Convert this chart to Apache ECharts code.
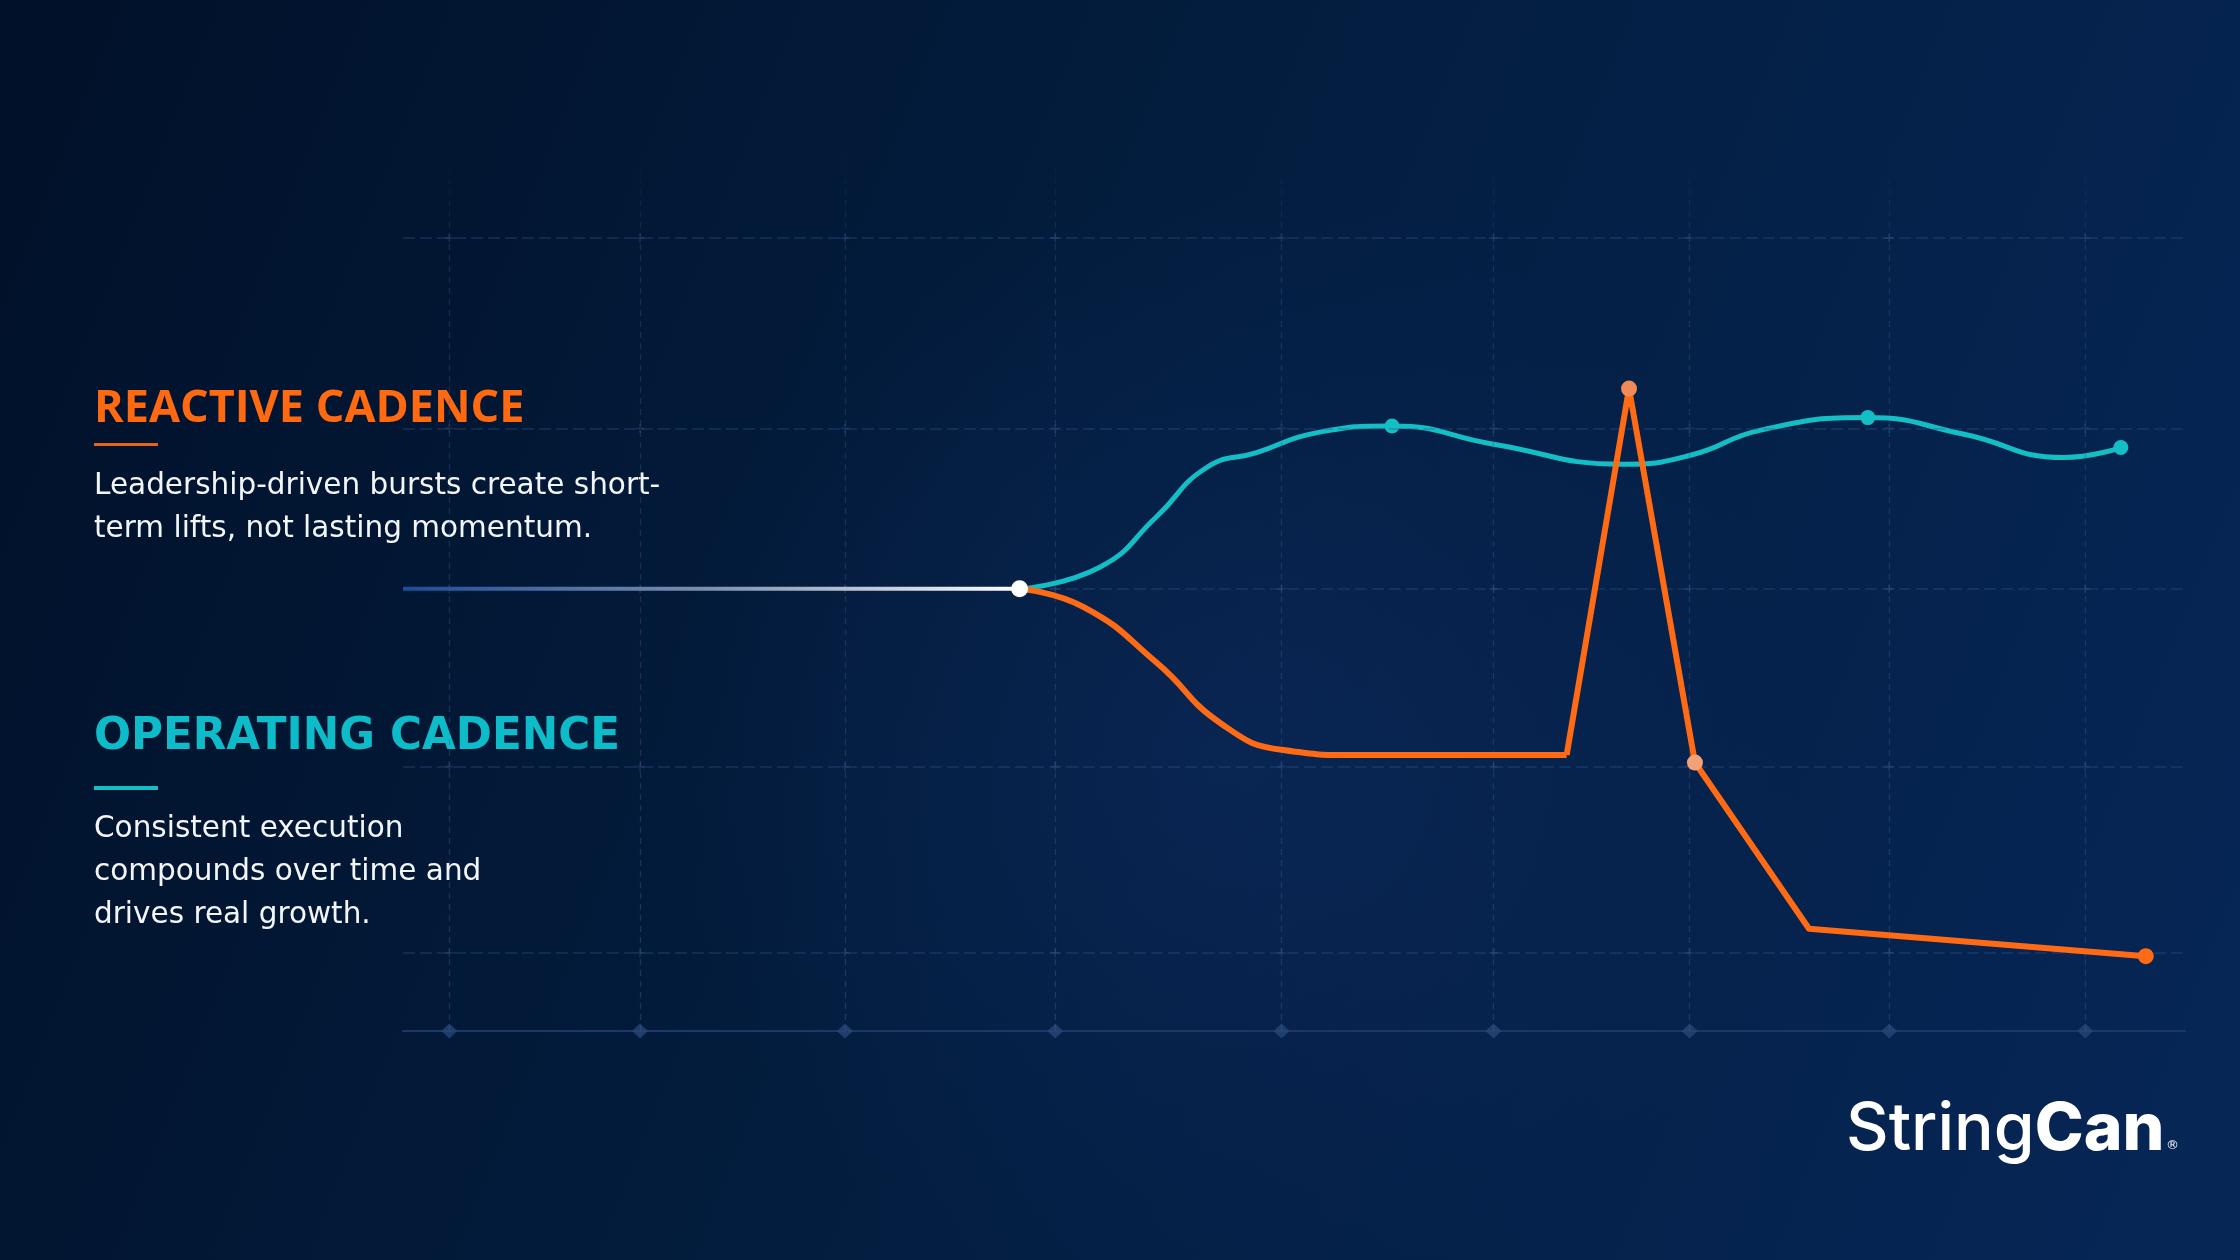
<!DOCTYPE html>
<html><head><meta charset="utf-8">
<script src="https://cdn.jsdelivr.net/npm/echarts@6/dist/echarts.min.js"></script>
<style>html,body{margin:0;padding:0;background:#041a38;}#c{width:2240px;height:1260px;}</style>
</head><body><div id="c"></div>
<script>
// ---- data (x: time units 0-100 across the grid, y: performance index 0-106) ----
const baselineX = [0, 34.6];
const baselineY = [53.2, 53.2];

const operatingX = [34.6, 39.1, 42.3, 45.1, 47.9, 51.3, 55.5, 61.2, 68.5, 72.3, 76.2, 82.2, 87.6, 93.2, 96.4];
const operatingY = [53.2, 55.8, 61.9, 67.8, 69.6, 72.0, 72.8, 70.6, 68.2, 69.3, 72.3, 73.8, 71.8, 69.0, 70.2];
const operatingMarked = [6, 11, 14];

const reactiveRampX = [34.6, 38.2, 42.3, 45.9, 49.4, 53.5, 65.3];
const reactiveRampY = [53.2, 51.0, 44.3, 37.0, 33.8, 33.2, 33.2];

const reactiveSpikeX = [65.3, 68.8, 72.5, 78.9, 97.8];
const reactiveSpikeY = [33.2, 77.3, 32.3, 12.3, 9.0];
const reactiveMarked = [1, 2, 4];

const gridX = [2.6, 13.3, 24.8, 36.6, 49.3, 61.2, 72.2, 83.4, 94.4];
const gridY = [95.4, 72.5, 53.2, 31.8, 9.4];

// ---- colours ----
const ORANGE = '#FF6A14';
const TEAL = '#13BEC4';

const pts = (xs, ys) => xs.map((x, i) => [x, ys[i]]);

const tealData = pts(operatingX, operatingY).map((p, i) =>
  operatingMarked.includes(i)
    ? { value: p, symbol: 'circle', symbolSize: 15, itemStyle: { color: TEAL } }
    : { value: p, symbol: 'none' });

const spikeColors = { 1: '#F28A55', 2: '#F3A177', 4: ORANGE };
const spikeData = pts(reactiveSpikeX, reactiveSpikeY).map((p, i) =>
  reactiveMarked.includes(i)
    ? { value: p, symbol: 'circle', symbolSize: 16, itemStyle: { color: spikeColors[i] } }
    : { value: p, symbol: 'none' });

const baseData = pts(baselineX, baselineY).map((p, i) =>
  i === baselineX.length - 1
    ? { value: p, symbol: 'circle', symbolSize: 17, itemStyle: { color: '#ffffff' } }
    : { value: p, symbol: 'none' });

const crosses = [];
gridX.forEach(x => gridY.forEach(y => crosses.push([x, y])));

const chart = echarts.init(document.getElementById('c'), null, { renderer: 'canvas' });
chart.setOption({
  backgroundColor: {
    type: 'linear', x: 0, y: 0.15, x2: 1, y2: 0.85,
    colorStops: [
      { offset: 0, color: '#01112a' },
      { offset: 0.45, color: '#031d3e' },
      { offset: 1, color: '#062656' }
    ]
  },
  animation: false,
  grid: { left: 403, right: 55, top: 150, bottom: 229 },
  xAxis: {
    type: 'value', min: 0, max: 100,
    axisLine: { show: true, lineStyle: { color: '#1d3865', width: 2 } },
    axisTick: { show: false }, axisLabel: { show: false }, splitLine: { show: false }
  },
  yAxis: {
    type: 'value', min: 0, max: 106, show: false, splitLine: { show: false }
  },
  series: [
    {
      type: 'line', data: [[0, 0]], symbol: 'none', silent: true, z: 1,
      lineStyle: { opacity: 0 },
      markLine: {
        silent: true, symbol: 'none', label: { show: false },
        data: [
          ...gridX.map(v => ({
            xAxis: v,
            lineStyle: {
              type: [6, 5], width: 1.2,
              color: {
                type: 'linear', x: 0, y: 0, x2: 0, y2: 1,
                colorStops: [
                  { offset: 0, color: 'rgba(55,88,140,0)' },
                  { offset: 0.12, color: 'rgba(55,88,140,0.35)' },
                  { offset: 1, color: 'rgba(55,88,140,0.45)' }
                ]
              }
            }
          })),
          ...gridY.map(v => ({
            yAxis: v,
            lineStyle: { type: [12, 5], width: 1.5, color: 'rgba(52,84,135,0.42)' }
          }))
        ]
      }
    },
    {
      type: 'scatter', data: crosses, silent: true, z: 1,
      symbol: 'path://M4,0H6V4H10V6H6V10H4V6H0V4H4Z', symbolSize: 9,
      itemStyle: { color: 'rgba(70,100,150,0.35)' }
    },
    {
      type: 'scatter', data: gridX.map(x => [x, 0]), silent: true, z: 2,
      symbol: 'diamond', symbolSize: [16, 15],
      itemStyle: { color: '#284676' }
    },
    {
      name: 'Operating cadence', type: 'line', smooth: 0.5, z: 4,
      data: tealData,
      lineStyle: { color: TEAL, width: 5 },
      itemStyle: { color: TEAL }
    },
    {
      name: 'Reactive cadence', type: 'line', smooth: 0.5, z: 5,
      data: pts(reactiveRampX, reactiveRampY), symbol: 'none',
      lineStyle: { color: ORANGE, width: 6 }
    },
    {
      name: 'Reactive cadence spike', type: 'line', smooth: false, z: 5,
      data: spikeData,
      lineStyle: { color: ORANGE, width: 6, join: 'round' },
      itemStyle: { color: ORANGE }
    },
    {
      name: 'Baseline', type: 'line', z: 8,
      data: baseData,
      lineStyle: {
        width: 4,
        color: {
          type: 'linear', x: 0, y: 0, x2: 1, y2: 0,
          colorStops: [
            { offset: 0, color: '#1c4c98' },
            { offset: 0.5, color: '#7f90ad' },
            { offset: 1, color: '#ffffff' }
          ]
        }
      }
    }
  ],
  graphic: [
    { type: 'rect', z: -100, silent: true, shape: { x: 0, y: 0, width: 2240, height: 1260 },
      style: { fill: { type: 'radial', x: 0.55, y: 0.6, r: 0.45,
        colorStops: [ { offset: 0, color: 'rgba(16,44,100,0.45)' }, { offset: 1, color: 'rgba(16,44,100,0)' } ] } } },
    { type: 'text', x: 94, y: 387, style: { text: 'REACTIVE CADENCE', font: 'bold 45px "Open Sans"', fill: '#FF6A10', verticalAlign: 'top', align: 'left' } },
    { type: 'rect', shape: { x: 94, y: 443, width: 64, height: 3 }, style: { fill: '#E8641C' } },
    { type: 'text', x: 94, y: 465, style: { text: 'Leadership-driven bursts create short-\nterm lifts, not lasting momentum.', font: '29.5px "DejaVu Sans"', lineHeight: 43, fill: '#F2F5F9', verticalAlign: 'top', align: 'left' } },
    { type: 'text', x: 94, y: 716, style: { text: 'OPERATING CADENCE', font: 'bold 43.6px "DejaVu Sans"', fill: '#0DBCC8', verticalAlign: 'top', align: 'left' } },
    { type: 'rect', shape: { x: 94, y: 786, width: 64, height: 4 }, style: { fill: '#13BEC4' } },
    { type: 'text', x: 94, y: 808, style: { text: 'Consistent execution\ncompounds over time and\ndrives real growth.', font: '29.5px "DejaVu Sans"', lineHeight: 43, fill: '#F2F5F9', verticalAlign: 'top', align: 'left' } },
    { type: 'text', x: 1846, y: 1097, style: { text: '{a|String}{b|Can}', verticalAlign: 'top', align: 'left',
        rich: { a: { fontFamily: 'Inter', fontWeight: 500, fontSize: 66, fill: '#ffffff' },
                b: { fontFamily: 'Inter', fontWeight: 800, fontSize: 66, fill: '#ffffff' } } } },
    { type: 'text', x: 2166, y: 1139, style: { text: '®', font: '13px "DejaVu Sans"', fill: '#ffffff', verticalAlign: 'top', align: 'left' } }
  ]
});
</script></body></html>
